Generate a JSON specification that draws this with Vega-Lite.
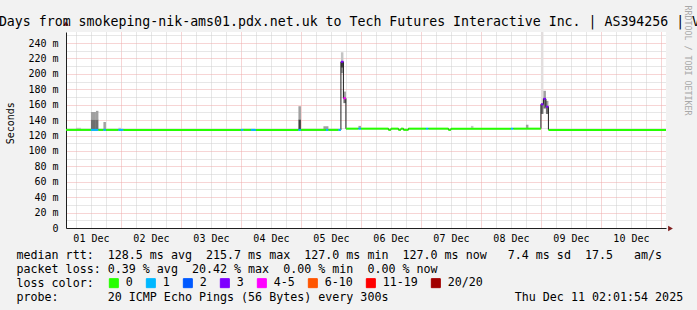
{
  "$schema": "https://vega.github.io/schema/vega-lite/v6.json",
  "width": 600,
  "height": 196,
  "autosize": {"type": "none"},
  "padding": {"left": 66, "top": 32, "right": 31, "bottom": 82},
  "background": "#f2f2f2",
  "view": {"fill": "#ffffff", "stroke": null},
  "config": {"font": "DejaVu Sans Mono"},
  "title": {
    "text": "10 Days from smokeping-nik-ams01.pdx.net.uk to Tech Futures Interactive Inc. | AS394256 | V",
    "anchor": "start", "frame": "group", "dx": -91, "offset": -34,
    "font": "DejaVu Sans Mono", "fontSize": 13.24, "fontWeight": "normal", "color": "#000000",
    "baseline": "alphabetic", "limit": 0
  },
  "datasets": {
    "med": [
      {"t": "2025-12-01T02:00:00Z", "t2": "2025-12-01T12:00:00Z", "med": 127.3, "loss": "0"},
      {"t": "2025-12-01T12:00:00Z", "t2": "2025-12-01T15:00:00Z", "med": 127.3, "loss": "1"},
      {"t": "2025-12-01T15:00:00Z", "t2": "2025-12-01T17:00:00Z", "med": 127.3, "loss": "0"},
      {"t": "2025-12-01T17:00:00Z", "t2": "2025-12-01T18:00:00Z", "med": 127.3, "loss": "1"},
      {"t": "2025-12-01T18:00:00Z", "t2": "2025-12-01T23:00:00Z", "med": 127.3, "loss": "0"},
      {"t": "2025-12-01T23:00:00Z", "t2": "2025-12-02T01:00:00Z", "med": 127.3, "loss": "1"},
      {"t": "2025-12-02T01:00:00Z", "t2": "2025-12-04T00:00:00Z", "med": 127.3, "loss": "0"},
      {"t": "2025-12-04T00:00:00Z", "t2": "2025-12-04T01:00:00Z", "med": 127.3, "loss": "1"},
      {"t": "2025-12-04T01:00:00Z", "t2": "2025-12-04T04:00:00Z", "med": 127.3, "loss": "0"},
      {"t": "2025-12-04T04:00:00Z", "t2": "2025-12-04T06:00:00Z", "med": 127.3, "loss": "1"},
      {"t": "2025-12-04T06:00:00Z", "t2": "2025-12-04T23:00:00Z", "med": 127.3, "loss": "0"},
      {"t": "2025-12-04T23:00:00Z", "t2": "2025-12-05T00:00:00Z", "med": 127.3, "loss": "1"},
      {"t": "2025-12-05T00:00:00Z", "t2": "2025-12-05T10:00:00Z", "med": 127.3, "loss": "0"},
      {"t": "2025-12-05T10:00:00Z", "t2": "2025-12-05T11:00:00Z", "med": 127.3, "loss": "1"},
      {"t": "2025-12-05T11:00:00Z", "t2": "2025-12-05T15:00:00Z", "med": 127.3, "loss": "0"},
      {"t": "2025-12-05T15:00:00Z", "t2": "2025-12-05T16:00:00Z", "med": 127.3, "loss": "1"},
      {"t": "2025-12-05T16:00:00Z", "t2": "2025-12-05T17:00:00Z", "med": 215.7, "loss": "3"},
      {"t": "2025-12-05T17:00:00Z", "t2": "2025-12-05T18:00:00Z", "med": 168.3, "loss": "4-5"},
      {"t": "2025-12-05T18:00:00Z", "t2": "2025-12-05T23:00:00Z", "med": 128.9, "loss": "0"},
      {"t": "2025-12-05T23:00:00Z", "t2": "2025-12-06T00:00:00Z", "med": 128.9, "loss": "1"},
      {"t": "2025-12-06T00:00:00Z", "t2": "2025-12-06T11:00:00Z", "med": 128.9, "loss": "0"},
      {"t": "2025-12-06T11:00:00Z", "t2": "2025-12-06T12:00:00Z", "med": 127.4, "loss": "0"},
      {"t": "2025-12-06T12:00:00Z", "t2": "2025-12-06T15:00:00Z", "med": 128.9, "loss": "0"},
      {"t": "2025-12-06T15:00:00Z", "t2": "2025-12-06T16:00:00Z", "med": 127.4, "loss": "0"},
      {"t": "2025-12-06T16:00:00Z", "t2": "2025-12-06T17:00:00Z", "med": 128.9, "loss": "0"},
      {"t": "2025-12-06T17:00:00Z", "t2": "2025-12-06T19:00:00Z", "med": 127.4, "loss": "0"},
      {"t": "2025-12-06T19:00:00Z", "t2": "2025-12-07T02:00:00Z", "med": 128.9, "loss": "0"},
      {"t": "2025-12-07T02:00:00Z", "t2": "2025-12-07T03:00:00Z", "med": 128.9, "loss": "1"},
      {"t": "2025-12-07T03:00:00Z", "t2": "2025-12-07T11:00:00Z", "med": 128.9, "loss": "0"},
      {"t": "2025-12-07T11:00:00Z", "t2": "2025-12-07T12:00:00Z", "med": 127.4, "loss": "0"},
      {"t": "2025-12-07T12:00:00Z", "t2": "2025-12-08T12:00:00Z", "med": 128.9, "loss": "0"},
      {"t": "2025-12-08T12:00:00Z", "t2": "2025-12-08T13:00:00Z", "med": 128.9, "loss": "1"},
      {"t": "2025-12-08T13:00:00Z", "t2": "2025-12-09T00:00:00Z", "med": 128.9, "loss": "0"},
      {"t": "2025-12-09T00:00:00Z", "t2": "2025-12-09T01:00:00Z", "med": 160.5, "loss": "3"},
      {"t": "2025-12-09T01:00:00Z", "t2": "2025-12-09T02:00:00Z", "med": 167.6, "loss": "3"},
      {"t": "2025-12-09T02:00:00Z", "t2": "2025-12-09T03:00:00Z", "med": 157.4, "loss": "3"},
      {"t": "2025-12-09T03:00:00Z", "t2": "2025-12-11T03:00:00Z", "med": 127.3, "loss": "0"}
    ],
    "smoke": [
      {"t": "2025-12-01T06:00:00Z", "t2": "2025-12-01T08:00:00Z", "lo": 127.3, "hi": 130, "level": "4"},
      {"t": "2025-12-01T12:00:00Z", "t2": "2025-12-01T14:00:00Z", "lo": 127.3, "hi": 141, "level": "2"},
      {"t": "2025-12-01T12:00:00Z", "t2": "2025-12-01T14:00:00Z", "lo": 141, "hi": 150.5, "level": "3"},
      {"t": "2025-12-01T14:00:00Z", "t2": "2025-12-01T15:00:00Z", "lo": 127.3, "hi": 141, "level": "2"},
      {"t": "2025-12-01T14:00:00Z", "t2": "2025-12-01T15:00:00Z", "lo": 141, "hi": 152, "level": "3"},
      {"t": "2025-12-01T17:00:00Z", "t2": "2025-12-01T18:00:00Z", "lo": 127.3, "hi": 137.5, "level": "3"},
      {"t": "2025-12-01T23:00:00Z", "t2": "2025-12-02T00:00:00Z", "lo": 127.3, "hi": 130, "level": "4"},
      {"t": "2025-12-04T23:00:00Z", "t2": "2025-12-05T00:00:00Z", "lo": 127.3, "hi": 141, "level": "1"},
      {"t": "2025-12-04T23:00:00Z", "t2": "2025-12-05T00:00:00Z", "lo": 141, "hi": 158, "level": "3"},
      {"t": "2025-12-05T09:00:00Z", "t2": "2025-12-05T11:00:00Z", "lo": 127.3, "hi": 132, "level": "3"},
      {"t": "2025-12-05T16:00:00Z", "t2": "2025-12-05T17:00:00Z", "lo": 201, "hi": 208, "level": "3"},
      {"t": "2025-12-05T16:00:00Z", "t2": "2025-12-05T17:00:00Z", "lo": 208, "hi": 215.7, "level": "1"},
      {"t": "2025-12-05T16:00:00Z", "t2": "2025-12-05T17:00:00Z", "lo": 215.7, "hi": 228, "level": "4"},
      {"t": "2025-12-05T17:00:00Z", "t2": "2025-12-05T18:00:00Z", "lo": 162, "hi": 168.3, "level": "2"},
      {"t": "2025-12-05T17:00:00Z", "t2": "2025-12-05T18:00:00Z", "lo": 168.3, "hi": 177, "level": "3"},
      {"t": "2025-12-05T23:00:00Z", "t2": "2025-12-06T00:00:00Z", "lo": 128.9, "hi": 132.5, "level": "3"},
      {"t": "2025-12-07T20:00:00Z", "t2": "2025-12-07T21:00:00Z", "lo": 128.9, "hi": 132.5, "level": "4"},
      {"t": "2025-12-08T18:00:00Z", "t2": "2025-12-08T19:00:00Z", "lo": 128.9, "hi": 134, "level": "3"},
      {"t": "2025-12-09T00:00:00Z", "t2": "2025-12-09T01:00:00Z", "lo": 148, "hi": 160.5, "level": "2"},
      {"t": "2025-12-09T00:00:00Z", "t2": "2025-12-09T01:00:00Z", "lo": 160.5, "hi": 254.3, "level": "5"},
      {"t": "2025-12-09T01:00:00Z", "t2": "2025-12-09T02:00:00Z", "lo": 155, "hi": 167.6, "level": "2"},
      {"t": "2025-12-09T01:00:00Z", "t2": "2025-12-09T02:00:00Z", "lo": 167.6, "hi": 178, "level": "3"},
      {"t": "2025-12-09T02:00:00Z", "t2": "2025-12-09T03:00:00Z", "lo": 148, "hi": 157.4, "level": "2"},
      {"t": "2025-12-09T02:00:00Z", "t2": "2025-12-09T03:00:00Z", "lo": 157.4, "hi": 165, "level": "3"}
    ]
  },
  "encoding": {
    "x": {
      "field": "t", "type": "temporal",
      "scale": {"type": "utc", "domain": [
        {"year": 2025, "month": 12, "date": 1, "hours": 2, "minutes": 1, "seconds": 54, "utc": true},
        {"year": 2025, "month": 12, "date": 11, "hours": 2, "minutes": 1, "seconds": 54, "utc": true}
      ]},
      "axis": {
        "values": [
          {"year": 2025, "month": 12, "date": 1, "hours": 6, "utc": true},
          {"year": 2025, "month": 12, "date": 1, "hours": 12, "utc": true},
          {"year": 2025, "month": 12, "date": 1, "hours": 18, "utc": true},
          {"year": 2025, "month": 12, "date": 2, "hours": 0, "utc": true},
          {"year": 2025, "month": 12, "date": 2, "hours": 6, "utc": true},
          {"year": 2025, "month": 12, "date": 2, "hours": 12, "utc": true},
          {"year": 2025, "month": 12, "date": 2, "hours": 18, "utc": true},
          {"year": 2025, "month": 12, "date": 3, "hours": 0, "utc": true},
          {"year": 2025, "month": 12, "date": 3, "hours": 6, "utc": true},
          {"year": 2025, "month": 12, "date": 3, "hours": 12, "utc": true},
          {"year": 2025, "month": 12, "date": 3, "hours": 18, "utc": true},
          {"year": 2025, "month": 12, "date": 4, "hours": 0, "utc": true},
          {"year": 2025, "month": 12, "date": 4, "hours": 6, "utc": true},
          {"year": 2025, "month": 12, "date": 4, "hours": 12, "utc": true},
          {"year": 2025, "month": 12, "date": 4, "hours": 18, "utc": true},
          {"year": 2025, "month": 12, "date": 5, "hours": 0, "utc": true},
          {"year": 2025, "month": 12, "date": 5, "hours": 6, "utc": true},
          {"year": 2025, "month": 12, "date": 5, "hours": 12, "utc": true},
          {"year": 2025, "month": 12, "date": 5, "hours": 18, "utc": true},
          {"year": 2025, "month": 12, "date": 6, "hours": 0, "utc": true},
          {"year": 2025, "month": 12, "date": 6, "hours": 6, "utc": true},
          {"year": 2025, "month": 12, "date": 6, "hours": 12, "utc": true},
          {"year": 2025, "month": 12, "date": 6, "hours": 18, "utc": true},
          {"year": 2025, "month": 12, "date": 7, "hours": 0, "utc": true},
          {"year": 2025, "month": 12, "date": 7, "hours": 6, "utc": true},
          {"year": 2025, "month": 12, "date": 7, "hours": 12, "utc": true},
          {"year": 2025, "month": 12, "date": 7, "hours": 18, "utc": true},
          {"year": 2025, "month": 12, "date": 8, "hours": 0, "utc": true},
          {"year": 2025, "month": 12, "date": 8, "hours": 6, "utc": true},
          {"year": 2025, "month": 12, "date": 8, "hours": 12, "utc": true},
          {"year": 2025, "month": 12, "date": 8, "hours": 18, "utc": true},
          {"year": 2025, "month": 12, "date": 9, "hours": 0, "utc": true},
          {"year": 2025, "month": 12, "date": 9, "hours": 6, "utc": true},
          {"year": 2025, "month": 12, "date": 9, "hours": 12, "utc": true},
          {"year": 2025, "month": 12, "date": 9, "hours": 18, "utc": true},
          {"year": 2025, "month": 12, "date": 10, "hours": 0, "utc": true},
          {"year": 2025, "month": 12, "date": 10, "hours": 6, "utc": true},
          {"year": 2025, "month": 12, "date": 10, "hours": 12, "utc": true},
          {"year": 2025, "month": 12, "date": 10, "hours": 18, "utc": true},
          {"year": 2025, "month": 12, "date": 11, "hours": 0, "utc": true}
        ],
        "labelExpr": "utchours(datum.value) === 12 ? utcFormat(datum.value, '%d %b') : ''",
        "labelOverlap": false, "labelFlush": false,
        "labelFont": "DejaVu Sans Mono", "labelFontSize": 10, "labelColor": "#000000",
        "labelBaseline": "alphabetic", "labelPadding": 13,
        "ticks": false,
        "domainColor": "#1f1f1f", "domainWidth": 1,
        "grid": true,
        "gridColor": {"condition": {"test": "utchours(datum.value) === 0", "value": "#eeaaaa"}, "value": "#cfcfcf"},
        "gridDash": [1, 1], "gridWidth": 1,
        "title": [
          "median rtt:\u00a0\u00a0128.5 ms avg\u00a0\u00a0215.7 ms max\u00a0\u00a0127.0 ms min\u00a0\u00a0127.0 ms now\u00a0\u00a0\u00a07.4 ms sd\u00a0\u00a017.5\u00a0\u00a0\u00a0am/s",
          "packet loss: 0.39 % avg\u00a0\u00a020.42 % max\u00a0\u00a00.00 % min\u00a0\u00a00.00 % now",
          "loss color:",
          "probe:\u00a0\u00a0\u00a0\u00a0\u00a0\u00a0\u00a020 ICMP Echo Pings (56 Bytes) every 300s\u00a0\u00a0\u00a0\u00a0\u00a0\u00a0\u00a0\u00a0\u00a0\u00a0\u00a0\u00a0\u00a0\u00a0\u00a0\u00a0\u00a0\u00a0Thu Dec 11 02:01:54 2025"
        ],
        "titleFont": "DejaVu Sans Mono", "titleFontSize": 11.66, "titleFontWeight": "normal",
        "titleColor": "#000000", "titleAlign": "left", "titleAnchor": "start",
        "titleBaseline": "alphabetic", "titleX": -50, "titleY": 30.3, "titleLineHeight": 14,
        "titleLimit": 2000
      }
    }
  },
  "resolve": {"axis": {"y": "independent"}},
  "layer": [
    {
      "data": {"name": "smoke"},
      "mark": {"type": "rect", "clip": true},
      "encoding": {
        "x2": {"field": "t2"},
        "y": {
          "field": "lo", "type": "quantitative",
          "scale": {"domain": [0, 254.3], "nice": false, "zero": true},
          "axis": {
            "values": [0, 10, 20, 30, 40, 50, 60, 70, 80, 90, 100, 110, 120, 130, 140, 150, 160, 170, 180, 190, 200, 210, 220, 230, 240, 250],
            "labelExpr": "datum.value % 20 === 0 ? (datum.value === 0 ? '0\u00a0\u00a0' : datum.value + ' m') : ''",
            "labelOverlap": false, "labelFont": "DejaVu Sans Mono", "labelFontSize": 10, "labelColor": "#000000",
            "labelPadding": 8, "labelBaseline": "middle",
            "ticks": false, "domainColor": "#1f1f1f",
            "grid": true,
            "gridColor": {"condition": {"test": "datum.value % 20 === 0", "value": "#eeaaaa"}, "value": "#cfcfcf"},
            "gridDash": [1, 1], "gridWidth": 1,
            "title": "Seconds", "titleFont": "DejaVu Sans Mono", "titleFontSize": 10, "titleFontWeight": "normal",
            "titleColor": "#000000", "titleX": -56, "titleY": 90.7, "titleAlign": "center", "titleBaseline": "middle", "titleAngle": -90
          }
        },
        "y2": {"field": "hi"},
        "fill": {
          "field": "level", "type": "nominal",
          "scale": {"domain": ["1", "2", "3", "4", "5"], "range": ["#404040", "#6e6e6e", "#a0a0a0", "#c4c4c4", "#e2dede"]},
          "legend": null
        }
      }
    },
    {
      "data": {"name": "med"},
      "mark": {"type": "line", "interpolate": "step-after", "color": "#1f1f1f", "strokeWidth": 1, "clip": true},
      "encoding": {
        "y": {
          "field": "med", "type": "quantitative",
          "axis": {
            "orient": "right", "domain": false, "ticks": false, "labels": false, "grid": false,
            "title": "RRDTOOL / TOBI OETIKER", "titleAngle": 90, "titleX": 20, "titleY": 28,
            "titleAlign": "center", "titleBaseline": "middle",
            "titleFont": "DejaVu Sans Mono", "titleFontSize": 8.3, "titleFontWeight": "normal", "titleColor": "#a8a8a8"
          }
        }
      }
    },
    {
      "data": {"name": "med"},
      "mark": {"type": "rule", "strokeWidth": 2, "clip": true},
      "encoding": {
        "x2": {"field": "t2"},
        "y": {"field": "med", "type": "quantitative", "axis": null},
        "color": {
          "field": "loss", "type": "nominal",
          "scale": {
            "domain": ["0", "1", "2", "3", "4-5", "6-10", "11-19", "20/20"],
            "range": ["#26ff00", "#00b8ff", "#0059ff", "#7e00ff", "#ff00ff", "#ff5500", "#ff0000", "#a10000"]
          },
          "legend": {
            "orient": "none", "legendX": 42, "legendY": 245, "direction": "horizontal",
            "title": null,
            "labelFont": "DejaVu Sans Mono", "labelFontSize": 11.66, "labelColor": "#000000",
            "symbolType": "square", "symbolSize": 81, "symbolStrokeWidth": 1, "symbolStrokeColor": "#000000",
            "labelOffset": 6, "columnPadding": 11, "padding": 0, "rowPadding": 0,
            "encode": {"symbols": {"update": {"fill": {"scale": "color", "field": "value"}, "stroke": {"value": "#000000"}, "strokeWidth": {"value": 1}, "opacity": {"value": 1}}}}
          }
        }
      }
    },
    {
      "data": {"values": [{"t": "2025-12-01T02:01:54Z"}]},
      "mark": {"type": "point", "shape": "triangle-up", "filled": true, "size": 30, "color": "#801f1f", "opacity": 1, "yOffset": -8.5},
      "encoding": {
        "y": {"datum": 254.3, "type": "quantitative", "axis": null}
      }
    },
    {
      "data": {"values": [{"t": "2025-12-11T02:01:54Z"}]},
      "mark": {"type": "point", "shape": "triangle-right", "filled": true, "size": 30, "color": "#801f1f", "opacity": 1, "xOffset": 4.5, "yOffset": 0.5},
      "encoding": {
        "y": {"datum": 0, "type": "quantitative", "axis": null}
      }
    }
  ]
}
